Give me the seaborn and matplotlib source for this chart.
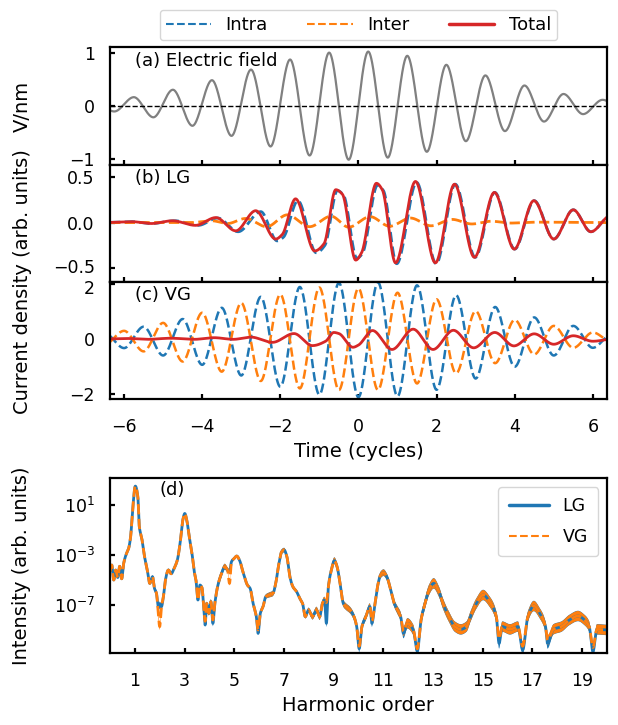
import numpy as np
import matplotlib
matplotlib.use("Agg")
import matplotlib.pyplot as plt
import matplotlib.transforms as mtransforms
from matplotlib.lines import Line2D
import seaborn as sns

# ---------------- data ----------------
# (a) electric field: extrema (time in cycles, V/nm)
field_t = [-6.75, -6.25, -5.75, -5.25, -4.75, -4.25, -3.75, -3.25, -2.75, -2.25, -1.75, -1.25,
           -0.75, -0.25, 0.25, 0.75, 1.25, 1.75, 2.25, 2.75, 3.25, 3.75, 4.25, 4.75, 5.25,
           5.75, 6.25, 6.75]
field_v = [0.07, -0.11, 0.16, -0.22, 0.30, -0.38, 0.48, -0.57, 0.68, -0.77, 0.87, -0.94,
           1.00, -1.02, 1.02, -0.98, 0.94, -0.87, 0.77, -0.67, 0.57, -0.48, 0.38, -0.30, 0.22,
           -0.16, 0.11, -0.07]

# (b) LG gauge currents
lg_total_t = [-6.6, -5.8, -5.3, -4.76, -4.17, -3.65, -3.14, -2.63, -2.12, -1.95, -1.61, -1.12,
              -0.88, -0.58, -0.41, -0.07, 0.08, 0.46, 0.61, 0.95, 1.46, 1.97, 2.46, 2.97, 3.48,
              3.99, 4.49, 5.0, 5.5, 5.95, 6.47]
lg_total_v = [0.0, 0.01, -0.01, 0.02, -0.03, 0.055, -0.09, 0.13, -0.18, -0.13, 0.26, -0.31,
              -0.23, 0.36, 0.31, -0.41, -0.33, 0.43, 0.36, -0.44, 0.45, -0.44, 0.42, -0.38, 0.33,
              -0.29, 0.24, -0.18, 0.14, -0.10, 0.08]
lg_intra_t = [-6.6, -5.8, -5.3, -4.7, -4.1, -3.6, -3.08, -2.5, -2.08, -1.92, -1.55, -1.08,
              -0.86, -0.54, -0.38, -0.04, 0.1, 0.49, 0.64, 0.98, 1.49, 1.99, 2.48, 2.99, 3.49,
              4.0, 4.5, 5.0, 5.5, 5.95, 6.47]
lg_intra_v = [0.0, 0.01, -0.01, 0.02, -0.03, 0.05, -0.10, 0.12, -0.20, -0.16, 0.24, -0.33,
              -0.25, 0.35, 0.30, -0.39, -0.34, 0.41, 0.35, -0.45, 0.44, -0.45, 0.42, -0.38, 0.33,
              -0.29, 0.24, -0.18, 0.14, -0.10, 0.08]
lg_inter_t = [-6.6, -4.3, -3.75, -3.35, -2.89, -2.35, -1.82, -1.25, -0.7, -0.25, 0.3, 0.8,
              1.33, 1.86, 2.4, 2.9, 3.4, 3.9, 4.5, 6.6]
lg_inter_v = [0.0, 0.0, 0.02, -0.01, 0.045, -0.045, 0.085, -0.045, 0.07, -0.05, 0.065, -0.04,
              0.05, -0.035, 0.035, -0.015, 0.015, -0.005, 0.005, 0.0]

# (c) VG gauge currents
vg_intra_t = [-6.5, -6.0, -5.5, -5.0, -4.5, -4.0, -3.5, -3.0, -2.5, -2.0, -1.5, -1.0, -0.5, 0.0,
              0.5, 1.0, 1.5, 2.0, 2.5, 3.0, 3.5, 4.0, 4.5, 5.0, 5.5, 6.0, 6.5]
vg_intra_v = [0.22, -0.33, 0.45, -0.60, 0.73, -0.94, 1.14, -1.33, 1.54, -1.74, 1.90, -2.03, 2.05,
              -2.12, 2.07, -2.09, 1.96, -1.85, 1.60, -1.44, 1.17, -1.01, 0.79, -0.60, 0.48, -0.32,
              0.20]
vg_inter_t = [-6.5, -6.0, -5.5, -5.0, -4.5, -4.0, -3.5, -3.0, -2.5, -2.0, -1.5, -1.0, -0.5, 0.0,
              0.5, 1.0, 1.5, 2.0, 2.5, 3.0, 3.5, 4.0, 4.5, 5.0, 5.5, 6.0, 6.5]
vg_inter_v = [-0.20, 0.30, -0.45, 0.59, -0.82, 0.96, -1.19, 1.32, -1.53, 1.63, -1.80, 1.88, -1.86,
              1.85, -1.86, 1.69, -1.62, 1.45, -1.25, 1.02, -0.88, 0.70, -0.56, 0.48, -0.32, 0.24,
              -0.12]
vg_total_t = [-6.6, -5.9, -5.4, -4.8, -4.2, -3.7, -3.2, -2.75, -2.2, -1.65, -1.18, -0.84, -0.63,
              -0.5, -0.14, 0.0, 0.36, 0.86, 1.4, 1.91, 2.43, 2.95, 3.49, 3.98, 4.5, 5.0, 5.5,
              6.0, 6.6]
vg_total_v = [0.0, 0.02, -0.01, 0.03, -0.01, 0.05, -0.01, 0.07, -0.12, 0.20, -0.24, -0.08, 0.24,
              0.20, -0.30, -0.22, 0.31, -0.38, 0.36, -0.38, 0.32, -0.32, 0.24, -0.25, 0.19, -0.19,
              0.12, -0.08, 0.02]

# (d) harmonic spectra: harmonic order and log10(intensity)
spec_h = [0.0, 0.07, 0.15, 0.23, 0.31, 0.39, 0.47, 0.55, 0.64, 0.75, 0.83, 0.91, 1.02, 1.12,
          1.18, 1.28, 1.39, 1.5, 1.6, 1.71, 1.79, 1.87, 1.95, 2.0, 2.07, 2.15, 2.23, 2.35, 2.46,
          2.58, 2.71, 2.82, 2.93, 3.01, 3.09, 3.19, 3.3, 3.38, 3.46, 3.54, 3.62, 3.7, 3.78, 3.83,
          3.89, 3.98, 4.06, 4.14, 4.22, 4.33, 4.49, 4.62, 4.73, 4.81, 4.89, 5.0, 5.1, 5.21, 5.37,
          5.53, 5.64, 5.76, 5.89, 5.96, 6.05, 6.16, 6.27, 6.4, 6.56, 6.67, 6.8, 6.91, 7.01, 7.12,
          7.24, 7.36, 7.51, 7.64, 7.75, 7.86, 7.99, 8.15, 8.31, 8.44, 8.55, 8.63, 8.71, 8.79,
          8.91, 9.03, 9.14, 9.26, 9.39, 9.5, 9.66, 9.82, 9.93, 10.03, 10.14, 10.3, 10.46, 10.54,
          10.65, 10.78, 10.89, 11.01, 11.14, 11.3, 11.44, 11.57, 11.7, 11.81, 11.97, 12.21, 12.37,
          12.52, 12.68, 12.84, 13.03, 13.24, 13.4, 13.64, 13.88, 14.12, 14.35, 14.51, 14.75,
          15.02, 15.28, 15.55, 15.66, 15.79, 16.1, 16.42, 16.61, 16.82, 17.06, 17.3, 17.53,
          17.61, 17.85, 18.17, 18.49, 18.84, 19.1, 19.29, 19.44, 19.6, 20.06]
spec_lg = [-4.3, -3.8, -5.0, -4.2, -4.8, -3.9, -4.9, -3.67, -3.0, -2.47, -1.53, 0.6, 2.52, 1.67,
           -0.73, -1.67, -3.13, -4.2, -5.27, -4.73, -5.67, -6.07, -7.2, -7.0, -7.13, -6.33, -5.0,
           -4.2, -4.5, -4.07, -3.4, -2.07, -0.2, 0.33, -0.2, -1.53, -2.87, -4.2, -5.0, -6.6, -5.4,
           -5.6, -7.4, -8.6, -6.87, -7.67, -6.73, -8.47, -6.87, -5.53, -4.47, -3.93, -4.2, -4.3,
           -3.53, -3.27, -3.08, -3.4, -4.47, -5.4, -5.67, -6.87, -7.93, -9.27, -7.67, -7.13, -6.33,
           -6.2, -6.07, -5.27, -3.67, -2.73, -2.6, -3.13, -4.73, -5.53, -5.93, -6.47, -6.87, -7.93,
           -7.4, -7.93, -7.4, -7.93, -6.87, -6.6, -8.47, -5.53, -4.2, -3.45, -3.93, -5.27, -6.87,
           -7.13, -7.4, -7.93, -8.73, -10.5, -8.73, -7.93, -7.13, -8.47, -7.13, -5.4, -4.6, -4.41,
           -4.73, -5.8, -6.87, -7.4, -7.93, -9.27, -8.47, -9.0, -10.7, -8.2, -6.87, -5.8, -5.27,
           -5.93, -6.87, -7.93, -8.73, -8.95, -8.73, -7.93, -6.87, -6.2, -6.73, -7.93, -10.07,
           -8.73, -8.95, -8.73, -10.6, -7.93, -7.08, -7.67, -8.73, -10.07, -8.95, -8.73, -8.2,
           -7.88, -8.2, -8.73, -10.73, -8.95, -9.0]
spec_vg = [-4.3, -3.8, -5.0, -4.2, -4.8, -3.9, -4.9, -3.67, -3.0, -2.47, -1.53, 0.6, 2.52, 1.67,
           -0.73, -1.67, -3.13, -4.2, -5.27, -4.73, -5.67, -6.07, -7.93, -8.73, -7.13, -6.33, -5.0,
           -4.2, -4.5, -4.07, -3.4, -2.07, -0.2, 0.33, -0.2, -1.53, -2.87, -4.2, -5.0, -6.6, -5.4,
           -5.6, -7.4, -8.3, -6.87, -7.67, -6.73, -8.2, -6.87, -5.53, -4.47, -3.93, -4.2, -5.27,
           -3.53, -3.27, -3.08, -3.4, -4.47, -5.4, -5.67, -6.87, -7.93, -9.0, -7.67, -7.13, -6.33,
           -6.2, -6.07, -5.27, -3.67, -2.73, -2.6, -3.13, -4.73, -5.53, -5.93, -6.47, -6.87, -7.93,
           -7.4, -7.93, -7.4, -7.93, -6.87, -6.6, -6.8, -5.53, -4.2, -3.45, -3.93, -5.27, -6.87,
           -7.13, -7.4, -7.93, -8.73, -10.3, -8.73, -7.93, -7.13, -8.3, -7.13, -5.4, -4.6, -4.41,
           -4.73, -5.8, -6.87, -7.4, -7.93, -9.1, -8.47, -9.0, -10.5, -8.2, -6.87, -5.8, -5.27,
           -5.93, -6.87, -7.93, -8.73, -8.95, -8.73, -7.93, -6.87, -6.2, -6.73, -7.93, -9.7,
           -8.73, -8.95, -8.73, -10.3, -7.93, -7.08, -7.67, -8.73, -9.8, -8.95, -8.73, -8.2,
           -7.88, -8.2, -8.73, -10.4, -8.95, -9.0]
# thickness (half-width in decades) of the dense fast-oscillation band
band_h = [0.0, 1.5, 2.0, 2.6, 3.4, 4.4, 5.4, 6.6, 7.6, 8.4, 11.3, 12.0, 20.06]
band_w = [0.0, 0.0, 0.25, 0.0, 0.0, 0.25, 0.0, 0.2, 0.1, 0.25, 0.25, 0.40, 0.40]

xticks_harm = [1, 3, 5, 7, 9, 11, 13, 15, 17, 19]
yticks_spec = [1e1, 1e-3, 1e-7]

C_BLUE, C_ORANGE, C_RED, C_GRAY = "#1f77b4", "#ff7f0e", "#d62728", "#808080"


def smooth(xk, yk, xn):
    """Monotone piecewise-cubic (PCHIP) curve through the read knots."""
    x = np.asarray(xk, float)
    y = np.asarray(yk, float)
    h = np.diff(x)
    d = np.diff(y) / h
    m = np.zeros_like(y)
    for k in range(1, len(y) - 1):
        if d[k - 1] * d[k] > 0:
            w1 = 2 * h[k] + h[k - 1]
            w2 = h[k] + 2 * h[k - 1]
            m[k] = (w1 + w2) / (w1 / d[k - 1] + w2 / d[k])
    idx = np.clip(np.searchsorted(x, xn) - 1, 0, len(x) - 2)
    t = (xn - x[idx]) / h[idx]
    h00 = 2 * t**3 - 3 * t**2 + 1
    h10 = t**3 - 2 * t**2 + t
    h01 = -2 * t**3 + 3 * t**2
    h11 = t**3 - t**2
    return h00 * y[idx] + h10 * h[idx] * m[idx] + h01 * y[idx + 1] + h11 * h[idx] * m[idx + 1]


# ---------------- style ----------------
sns.set_style("ticks")
plt.rcParams.update({
    "font.family": ["DejaVu Sans"],
    "font.size": 13,
    "text.color": "black",
    "axes.labelcolor": "black",
    "xtick.color": "black",
    "ytick.color": "black",
    "axes.linewidth": 1.6,
    "xtick.direction": "in",
    "ytick.direction": "in",
    "xtick.major.size": 3.5,
    "ytick.major.size": 3.5,
    "xtick.major.width": 1.6,
    "ytick.major.width": 1.6,
    "xtick.major.pad": 14,
    "ytick.major.pad": 11,
    "xtick.labelsize": 12.5,
    "ytick.labelsize": 12.5,
    "axes.labelsize": 14,
    "axes.edgecolor": "black",
})

fig = plt.figure(figsize=(6.18, 7.25), dpi=100)
L, W = 0.178, 0.804
ax_a = fig.add_axes([L, 0.7724, W, 0.1623])
ax_b = fig.add_axes([L, 0.6110, W, 0.1614])
ax_c = fig.add_axes([L, 0.4503, W, 0.1607])
ax_d = fig.add_axes([L, 0.0997, W, 0.2405])

tt = np.linspace(-6.5, 6.5, 4000)

# (a)
sns.lineplot(x=tt, y=smooth(field_t, field_v, tt), ax=ax_a, color=C_GRAY, lw=1.6,
             estimator=None, sort=False)
ax_a.axhline(0, color="black", ls="--", lw=1.0)
ax_a.set_ylim(-1.12, 1.10)
ax_a.set_yticks([-1, 0, 1])
ax_a.set_ylabel("V/nm")

# (b)
sns.lineplot(x=tt, y=smooth(lg_intra_t, lg_intra_v, tt), ax=ax_b, color=C_BLUE, lw=2.0,
             linestyle="--", estimator=None, sort=False)
sns.lineplot(x=tt, y=smooth(lg_inter_t, lg_inter_v, tt), ax=ax_b, color=C_ORANGE, lw=2.0,
             linestyle="--", estimator=None, sort=False)
sns.lineplot(x=tt, y=smooth(lg_total_t, lg_total_v, tt), ax=ax_b, color=C_RED, lw=2.0,
             estimator=None, sort=False)
ax_b.set_ylim(-0.65, 0.63)
ax_b.set_yticks([-0.5, 0.0, 0.5])
ax_b.set_yticklabels(["\u22120.5", "0.0", "0.5"])

# (c)
sns.lineplot(x=tt, y=smooth(vg_intra_t, vg_intra_v, tt), ax=ax_c, color=C_BLUE, lw=1.8,
             linestyle="--", estimator=None, sort=False)
sns.lineplot(x=tt, y=smooth(vg_inter_t, vg_inter_v, tt), ax=ax_c, color=C_ORANGE, lw=1.8,
             linestyle="--", estimator=None, sort=False)
sns.lineplot(x=tt, y=smooth(vg_total_t, vg_total_v, tt), ax=ax_c, color=C_RED, lw=2.0,
             estimator=None, sort=False)
ax_c.set_ylim(-2.17, 2.08)
ax_c.set_yticks([-2, 0, 2])
ax_c.set_yticklabels(["\u22122", "0", "2"])
ax_c.set_xlabel("Time (cycles)")

# nudge the two crowded tick labels apart (they nearly touch in the reference)
lab_b = ax_b.get_yticklabels()[0]
lab_b.set_transform(lab_b.get_transform() +
                    mtransforms.ScaledTranslation(0, 1.5 / 72, fig.dpi_scale_trans))
lab_c = ax_c.get_yticklabels()[-1]
lab_c.set_transform(lab_c.get_transform() +
                    mtransforms.ScaledTranslation(0, -2.0 / 72, fig.dpi_scale_trans))

for ax, lab in [(ax_a, "(a) Electric field"), (ax_b, "(b) LG"), (ax_c, "(c) VG")]:
    ax.set_xlim(-6.36, 6.36)
    ax.set_xticks([-6, -4, -2, 0, 2, 4, 6])
    ax.text(0.05, 0.885, lab, transform=ax.transAxes, ha="left", va="center", fontsize=13)
    for s in ax.spines.values():
        s.set_visible(True)
ax_a.tick_params(labelbottom=False)
ax_b.tick_params(labelbottom=False)

fig.text(0.036, 0.611, "Current density (arb. units)", rotation=90, ha="center",
         va="center", fontsize=14)
ax_a.yaxis.set_label_coords(-0.158, 0.5)

# (d)
hh = np.linspace(0.0, 20.06, 6000)
c_lg = smooth(spec_h, spec_lg, hh)
c_vg = smooth(spec_h, spec_vg, hh)
bw = smooth(band_h, band_w, hh)
ax_d.fill_between(hh, 10 ** (c_lg - bw - 0.02), 10 ** (c_lg + bw + 0.02), color=C_BLUE,
                  lw=0, where=bw > 0.02)
sns.lineplot(x=hh, y=10 ** c_lg, ax=ax_d, color=C_BLUE, lw=2.0, estimator=None, sort=False)
ax_d.fill_between(hh, 10 ** (c_vg - bw), 10 ** (c_vg + bw), color=C_ORANGE, lw=0,
                  where=bw > 0.02)
sns.lineplot(x=hh, y=10 ** c_vg, ax=ax_d, color=C_ORANGE, lw=2.0, linestyle="--",
             estimator=None, sort=False)
ax_d.set_yscale("log")
ax_d.set_ylim(10 ** -10.82, 10 ** 3.14)
ax_d.set_yticks(yticks_spec)
ax_d.yaxis.set_minor_locator(matplotlib.ticker.NullLocator())
ax_d.set_xlim(0, 20)
ax_d.set_xticks(xticks_harm)
ax_d.set_xlabel("Harmonic order")
ax_d.set_ylabel("Intensity (arb. units)")
ax_d.yaxis.set_label_coords(-0.158, 0.5)
ax_d.text(0.10, 0.985, "(d)", transform=ax_d.transAxes, ha="left", va="top", fontsize=13)
for s in ax_d.spines.values():
    s.set_visible(True)
ax_d.legend(handles=[Line2D([], [], color=C_BLUE, lw=2.5),
                     Line2D([], [], color=C_ORANGE, lw=1.5, ls="--")],
            labels=["LG", "VG"], loc="upper right", fontsize=12.5, handlelength=2.3,
            borderpad=0.6, labelspacing=0.7)

# top legend
handles = [Line2D([], [], color=C_BLUE, lw=1.5, ls="--"),
           Line2D([], [], color=C_ORANGE, lw=1.5, ls="--"),
           Line2D([], [], color=C_RED, lw=2.5)]
fig.legend(handles, ["Intra", "Inter", "Total"], loc="upper center",
           bbox_to_anchor=(L + W / 2, 0.999), ncol=3, fontsize=13, columnspacing=2.2,
           handlelength=2.5, borderpad=0.35)

fig.savefig("out.png", dpi=100)
